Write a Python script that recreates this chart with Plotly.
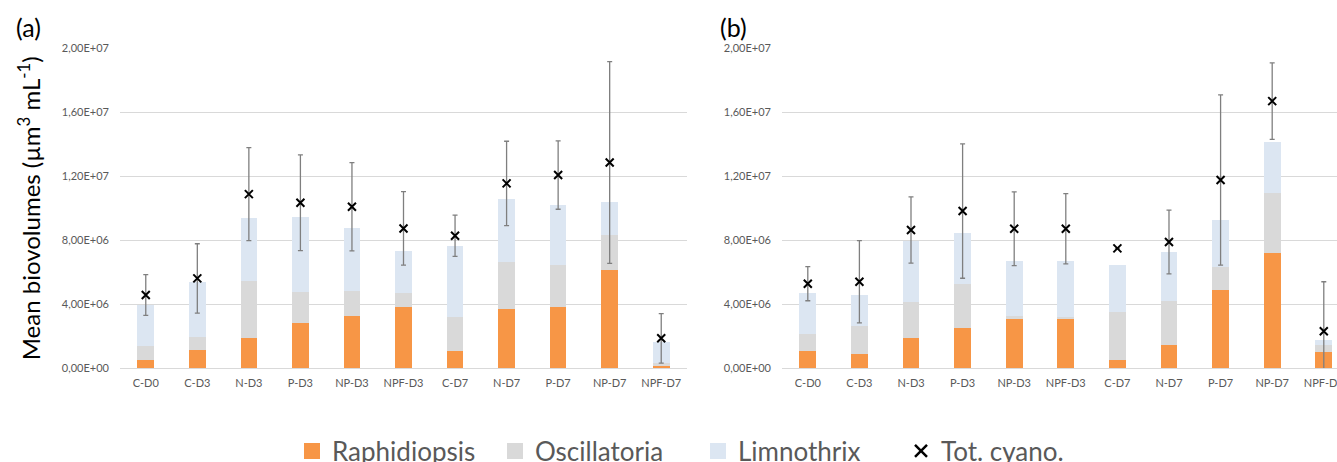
import plotly.graph_objects as go

# Treatments / sampling days
categories = ["C-D0", "C-D3", "N-D3", "P-D3", "NP-D3", "NPF-D3",
              "C-D7", "N-D7", "P-D7", "NP-D7", "NPF-D7"]

# Panel (a): mean biovolumes (µm3 mL-1)
raph_a = [0.52e6, 1.15e6, 1.90e6, 2.84e6, 3.23e6, 3.84e6, 1.06e6, 3.69e6, 3.82e6, 6.11e6, 0.10e6]
osc_a = [0.86e6, 0.79e6, 3.53e6, 1.92e6, 1.57e6, 0.83e6, 2.11e6, 2.92e6, 2.61e6, 2.24e6, 0.23e6]
limno_a = [2.56e6, 3.42e6, 3.96e6, 4.67e6, 3.98e6, 2.65e6, 4.45e6, 3.97e6, 3.75e6, 2.02e6, 1.30e6]
tot_a = [4.57e6, 5.61e6, 10.89e6, 10.35e6, 10.10e6, 8.74e6, 8.28e6, 11.56e6, 12.08e6, 12.87e6, 1.86e6]
err_a = [1.28e6, 2.17e6, 2.91e6, 3.00e6, 2.76e6, 2.30e6, 1.29e6, 2.64e6, 2.14e6, 6.32e6, 1.55e6]

# Panel (b)
raph_b = [1.04e6, 0.90e6, 1.90e6, 2.48e6, 3.15e6, 3.15e6, 0.48e6, 1.42e6, 4.88e6, 7.20e6, 1.00e6]
osc_b = [1.07e6, 1.75e6, 2.23e6, 2.80e6, 0.11e6, 0.07e6, 3.03e6, 2.75e6, 1.46e6, 3.75e6, 0.46e6]
limno_b = [2.58e6, 1.92e6, 3.84e6, 3.19e6, 3.44e6, 3.48e6, 2.92e6, 3.07e6, 2.94e6, 3.18e6, 0.27e6]
tot_b = [5.28e6, 5.40e6, 8.64e6, 9.83e6, 8.72e6, 8.72e6, 7.49e6, 7.89e6, 11.77e6, 16.71e6, 2.30e6]
err_b = [1.07e6, 2.58e6, 2.07e6, 4.21e6, 2.31e6, 2.20e6, None, 2.00e6, 5.33e6, 2.40e6, 3.10e6]

y_ticks = [0, 4e6, 8e6, 12e6, 16e6, 20e6]
y_tick_text = ["0,00E+00", "4,00E+06", "8,00E+06", "1,20E+07", "1,60E+07", "2,00E+07"]

series_names = ["Raphidiopsis", "Oscillatoria", "Limnothrix"]
series_colors = ["#F79646", "#D9D9D9", "#DCE6F2"]
total_name = "Tot. cyano."

FONT = "Lato"
TEXT_GREY = "#595959"
W, H = 1337, 462

fig = go.Figure()

panels = [
    ("x", "y", [raph_a, osc_a, limno_a], tot_a, err_a),
    ("x2", "y2", [raph_b, osc_b, limno_b], tot_b, err_b),
]

for xa, ya, stacks, tot, err in panels:
    for name, color, vals in zip(series_names, series_colors, stacks):
        fig.add_trace(go.Bar(
            x=categories, y=vals, name=name, marker=dict(color=color, line=dict(width=0)),
            xaxis=xa, yaxis=ya, showlegend=False,
        ))
    fig.add_trace(go.Scatter(
        x=categories, y=tot, mode="markers", name=total_name,
        marker=dict(symbol="x-thin", size=8, line=dict(width=2, color="black"), color="black"),
        error_y=dict(type="data", array=err, visible=True, color="#7F7F7F", thickness=1.3, width=2.5),
        xaxis=xa, yaxis=ya, showlegend=False,
    ))

# Legend entries
for name, color in zip(series_names, series_colors):
    fig.add_trace(go.Scatter(
        x=[None], y=[None], mode="markers", name=name,
        marker=dict(symbol="square", size=16, color=color),
    ))
fig.add_trace(go.Scatter(
    x=[None], y=[None], mode="markers", name=total_name,
    marker=dict(symbol="x-thin", size=12, line=dict(width=2.5, color="black"), color="black"),
))

def px_x(p):
    return p / W

def px_y(p):
    return (H - p) / H

y_dom = [px_y(368), px_y(48.6)]

common_x = dict(
    type="category", showgrid=False, zeroline=False, showline=False,
    ticks="", tickfont=dict(family=FONT, size=11, color=TEXT_GREY),
    ticklabelstandoff=7,
)
common_y = dict(
    range=[0, 2e7], tickvals=y_ticks, ticktext=y_tick_text,
    showgrid=True, gridcolor="#D9D9D9", gridwidth=1,
    zeroline=True, zerolinecolor="#D9D9D9", zerolinewidth=1,
    showline=False, ticks="", ticklabelstandoff=10,
    tickfont=dict(family=FONT, size=11, color=TEXT_GREY), domain=y_dom,
)

fig.update_layout(
    width=W, height=H,
    margin=dict(l=0, r=0, t=0, b=0, autoexpand=False),
    paper_bgcolor="white", plot_bgcolor="white",
    barmode="stack", bargap=0.676,
    xaxis=dict(common_x, domain=[px_x(120), px_x(687)], range=[-0.5, 10.5]),
    xaxis2=dict(common_x, domain=[px_x(782), 1.0], range=[-0.5, 10.256], anchor="y2"),
    yaxis=dict(common_y, anchor="x",
               title=dict(text="Mean biovolumes (µm<sup>3</sup> mL<sup>-1</sup>)",
                          font=dict(family=FONT, size=24, color="black"), standoff=14)),
    yaxis2=dict(common_y, anchor="x2"),
    legend=dict(
        orientation="h", x=px_x(292), xanchor="left", y=px_y(451), yanchor="middle",
        font=dict(family=FONT, size=26, color=TEXT_GREY), traceorder="normal",
        itemsizing="trace", entrywidth=158, bgcolor="rgba(0,0,0,0)",
    ),
    annotations=[
        dict(text="(a)", x=px_x(28), y=px_y(27), xref="paper", yref="paper",
             xanchor="center", yanchor="middle",
             showarrow=False, font=dict(family=FONT, size=25, color="black")),
        dict(text="(b)", x=px_x(733), y=px_y(27), xref="paper", yref="paper",
             xanchor="center", yanchor="middle",
             showarrow=False, font=dict(family=FONT, size=25, color="black")),
    ],
)

fig.write_html("out.html")
